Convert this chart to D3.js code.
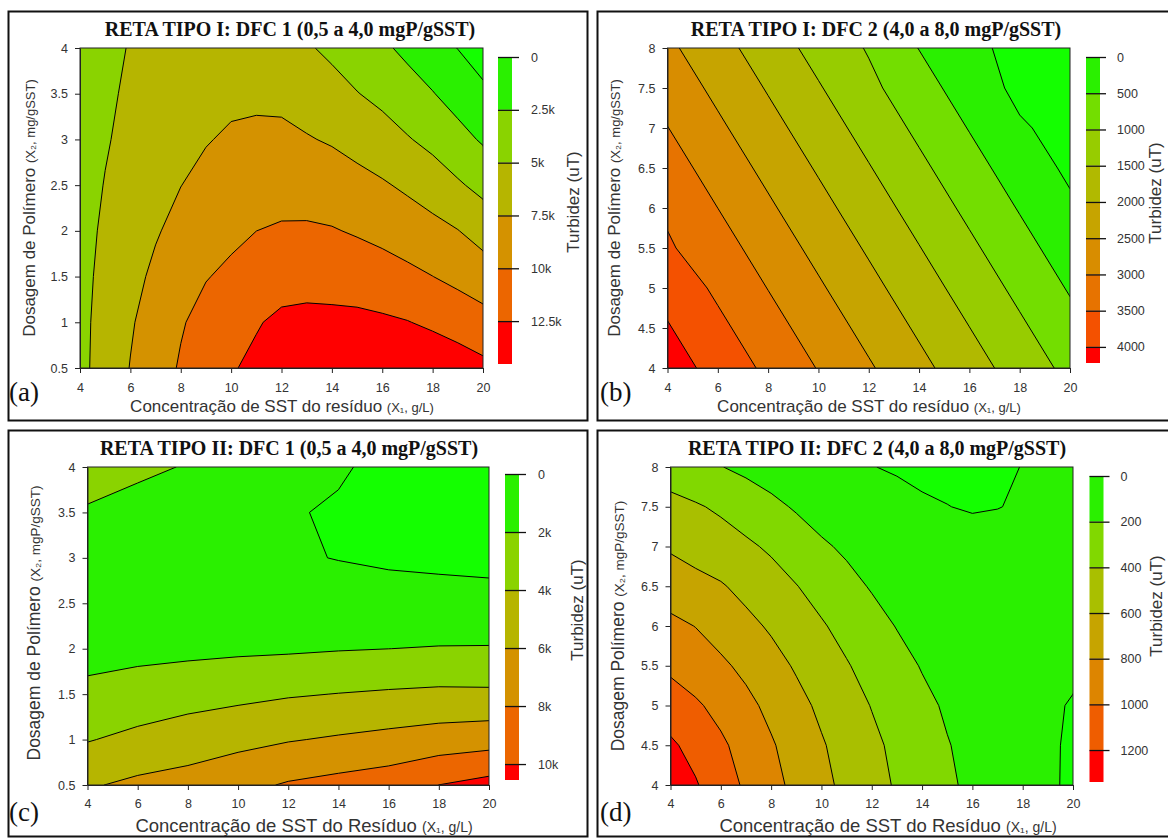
<!DOCTYPE html>
<html>
<head>
<meta charset="utf-8">
<script src="https://cdn.jsdelivr.net/npm/d3@7"></script>
<style>
  body { margin: 0; background: #fff; }
  text { font-family: "Liberation Sans", Arial, sans-serif; }
</style>
</head>
<body>
<svg id="chart" width="1168" height="838"></svg>
<script>
// X1 = SST concentration (g/L), X2 = polymer dose
var x1Grid = [4, 6, 8, 10, 12, 14, 16, 18, 20];
var x1GridFine = [4, 5, 6, 7, 8, 9, 10, 11, 12, 13, 14, 15, 16, 17, 18, 19, 20];
var x2GridLow = [0.5, 1, 1.5, 2, 2.5, 3, 3.5, 4];
var x2GridHigh = [4, 4.5, 5, 5.5, 6, 6.5, 7, 7.5, 8];

// turbidity, one row per X2 value (lowest X2 first)
var turbA = [
  [4370, 6003, 7582, 8948, 10228, 11320, 12300, 13020, 13654, 14100, 14447, 14590, 14640, 14490, 14233, 13730, 13100],
  [4380, 5833, 7270, 8550, 9800, 10766, 11700, 12315, 13000, 13150, 13056, 13050, 12857, 12582, 12083, 11500, 10850],
  [4330, 5593, 6780, 7963, 9150, 9896, 10430, 11005, 11500, 11620, 11618, 11385, 11052, 10566, 10020, 9395, 8730],
  [4250, 5342, 6320, 7295, 8200, 8905, 9530, 9995, 10250, 10300, 10147, 9779, 9336, 8800, 8239, 7567, 6545],
  [4150, 5080, 5878, 6700, 7470, 8115, 8660, 8935, 9090, 8960, 8708, 8260, 7753, 7098, 6293, 5298, 4310],
  [4000, 4833, 5550, 6330, 7030, 7373, 7795, 7935, 7955, 7652, 7278, 6680, 6020, 5170, 4341, 3283, 2226],
  [3850, 4617, 5350, 6015, 6600, 6880, 7040, 7110, 7020, 6495, 5890, 5081, 4378, 3491, 2604, 1559, 514],
  [3900, 4515, 5100, 5680, 6200, 6430, 6500, 6280, 5900, 5257, 4500, 3700, 2900, 1968, 1000, -46, -1200]
];
var turbB = [
  [4243, 3821, 3399, 2977, 2555, 2133, 1711, 1289, 867],
  [4038, 3616, 3194, 2772, 2350, 1928, 1506, 1084, 662],
  [3832, 3410, 2988, 2566, 2144, 1722, 1300, 878, 456],
  [3560, 3205, 2783, 2361, 1939, 1517, 1095, 673, 251],
  [3421, 2999, 2577, 2155, 1733, 1311, 889, 467, 80],
  [3216, 2794, 2372, 1950, 1528, 1106, 684, 262, -87],
  [3010, 2588, 2166, 1744, 1322, 900, 478, 56, -168],
  [2805, 2383, 1961, 1539, 1117, 695, 273, -117, -260],
  [2599, 2177, 1755, 1333, 960, 489, 150, -180, -360]
];
var turbC = [
  [5800, 6400, 6750, 7450, 8186, 8619, 9050, 10010, 10673],
  [3892, 4500, 5000, 5434, 5878, 6217, 6550, 6919, 7186],
  [2388, 2780, 3222, 3529, 3833, 4043, 4227, 4370, 4333],
  [1425, 1500, 1550, 1671, 1750, 1895, 1995, 2090, 2114],
  [1003, 847, 610, 591, 750, 800, 700, 620, 529],
  [1122, 784, 361, 186, 180, -50, -250, -350, -422],
  [1782, 1295, 785, 456, 110, -150, -500, -650, -739],
  [2983, 2382, 1883, 1401, 450, 150, -350, -400, -422]
];
var turbD = [
  [1340, 1216, 1092, 971, 859, 752, 649, 554, 466, 381, 306, 231, 160, 105, 55, 18, -20],
  [1230, 1138, 1033, 926, 819, 718, 617, 528, 440, 359, 284, 208, 155, 100, 50, 15, -15],
  [1100, 1027, 941, 848, 753, 656, 564, 478, 393, 317, 241, 179, 134, 90, 45, 17, -8],
  [960, 896, 833, 756, 668, 580, 496, 413, 335, 260, 190, 150, 110, 82, 55, 37, 20],
  [845, 796, 723, 650, 576, 497, 418, 341, 265, 193, 151, 118, 85, 65, 45, 35, 25],
  [706, 659, 617, 546, 476, 406, 330, 254, 186, 145, 110, 83, 60, 44, 30, 27, 25],
  [577, 528, 479, 431, 373, 299, 226, 170, 125, 95, 70, 58, 50, 32, 15, 20, 25],
  [449, 418, 372, 308, 244, 181, 121, 93, 65, 40, 15, 2, -10, -2, 8, 16, 25],
  [319, 262, 205, 159, 114, 80, 45, 24, 3, -12, -25, -28, -30, -14, 2, 11, 20]
];

// contour levels, colour key top value and key labels
var levelsA = [0, 2500, 5000, 7500, 10000, 12500];
var levelsB = [0, 500, 1000, 1500, 2000, 2500, 3000, 3500, 4000];
var levelsC = [0, 2000, 4000, 6000, 8000, 10000];
var levelsD = [0, 200, 400, 600, 800, 1000, 1200];
var keyMaxA = 14530, keyMaxB = 4222, keyMaxC = 10550, keyMaxD = 1340;
var keyLabelsA = ["0", "2.5k", "5k", "7.5k", "10k", "12.5k"];
var keyLabelsB = ["0", "500", "1000", "1500", "2000", "2500", "3000", "3500", "4000"];
var keyLabelsC = ["0", "2k", "4k", "6k", "8k", "10k"];
var keyLabelsD = ["0", "200", "400", "600", "800", "1000", "1200"];

var x1Ticks = [4, 6, 8, 10, 12, 14, 16, 18, 20];
var x2TicksLow = [0.5, 1, 1.5, 2, 2.5, 3, 3.5, 4];
var x2TicksHigh = [4, 4.5, 5, 5.5, 6, 6.5, 7, 7.5, 8];

var titles = [
  "RETA TIPO I: DFC 1 (0,5 a 4,0 mgP/gSST)",
  "RETA TIPO I: DFC 2 (4,0 a 8,0 mgP/gSST)",
  "RETA TIPO II: DFC 1 (0,5 a 4,0 mgP/gSST)",
  "RETA TIPO II: DFC 2 (4,0 a 8,0 mgP/gSST)"
];
var xTitles = ["Concentração de SST do resíduo ", "Concentração de SST do resíduo ",
  "Concentração de SST do Resíduo ", "Concentração de SST do Resíduo "];
var yTitles = [
  ["Dosagem de Polímero ", "(X\u2082, mg/gSST)"],
  ["Dosagem de Polímero ", "(X\u2082, mg/gSST)"],
  ["Dosagem de Polímero ", "(X\u2082, mgP/gSST)"],
  ["Dosagem Polímero ", "(X\u2082, mgP/gSST)"]
];
var letters = ["(a)", "(b)", "(c)", "(d)"];

var svg = d3.select("#chart");
var palette = d3.interpolateLab("#2af000", "#ff0000");
var belowZero = "#14ff00";

// layout of the four panels
var panels = [
  { id: "a", z: turbA, xGrid: x1GridFine, yGrid: x2GridLow, yTicks: x2TicksLow, levels: levelsA, keyMax: keyMaxA, keyLabels: keyLabelsA,
    frame: [8.5, 11.5, 579, 409], l: 80, r: 483, t: 48, b: 368,
    titleX: 290, titleY: 36, letterX: 9, letterY: 401,
    xtX: 282, xtY: 412, xtSize: 17, xtSub: 13, ytX: 29, ytY: 208, ytSize: 17, ytSub: 13,
    keyX: 498, keyT: 57, keyB: 364, keyTick: 21, keyPad: 12, turbX: 573, turbY: 202, xPad: 10 },
  { id: "b", z: turbB, xGrid: x1Grid, yGrid: x2GridHigh, yTicks: x2TicksHigh, levels: levelsB, keyMax: keyMaxB, keyLabels: keyLabelsB,
    frame: [597.5, 11.5, 590, 409], l: 667.5, r: 1070, t: 48, b: 368,
    titleX: 876, titleY: 36, letterX: 600, letterY: 401,
    xtX: 869, xtY: 412, xtSize: 17, xtSub: 13, ytX: 614, ytY: 208, ytSize: 17, ytSub: 13,
    keyX: 1086, keyT: 57, keyB: 363, keyTick: 20, keyPad: 11, turbX: 1155, turbY: 193, xPad: 10 },
  { id: "c", z: turbC, xGrid: x1Grid, yGrid: x2GridLow, yTicks: x2TicksLow, levels: levelsC, keyMax: keyMaxC, keyLabels: keyLabelsC,
    frame: [8.5, 430.5, 579, 406], l: 87.5, r: 489, t: 467, b: 785,
    titleX: 289, titleY: 455, letterX: 9, letterY: 821,
    xtX: 304, xtY: 832, xtSize: 18.5, xtSub: 14, ytX: 34, ytY: 623, ytSize: 17.5, ytSub: 13.5,
    keyX: 505, keyT: 474, keyB: 780, keyTick: 21, keyPad: 12, turbX: 577, turbY: 610, xPad: 9 },
  { id: "d", z: turbD, xGrid: x1GridFine, yGrid: x2GridHigh, yTicks: x2TicksHigh, levels: levelsD, keyMax: keyMaxD, keyLabels: keyLabelsD,
    frame: [597.5, 430.5, 590, 406], l: 670.5, r: 1073, t: 467, b: 785,
    titleX: 877, titleY: 455, letterX: 600, letterY: 821,
    xtX: 888, xtY: 832, xtSize: 18.5, xtSub: 14, ytX: 618, ytY: 626, ytSize: 17.5, ytSub: 13.5,
    keyX: 1089.5, keyT: 476, keyB: 782, keyTick: 20, keyPad: 11, turbX: 1156, turbY: 606, xPad: 9 }
];

panels.forEach(function(p, pi) {
  var g = svg.append("g");
  var n = p.levels.length;
  var color = function(i) { return palette(i / (n - 1)); };

  // outer frame
  g.append("rect").attr("x", p.frame[0]).attr("y", p.frame[1])
    .attr("width", p.frame[2]).attr("height", p.frame[3])
    .attr("fill", "none").attr("stroke", "#111").attr("stroke-width", 2);

  var x = d3.scaleLinear().domain([p.xGrid[0], p.xGrid[p.xGrid.length - 1]]).range([p.l, p.r]);
  var y = d3.scaleLinear().domain([p.yGrid[0], p.yGrid[p.yGrid.length - 1]]).range([p.b, p.t]);

  // filled contours from the grid
  var nx = p.xGrid.length, ny = p.yGrid.length;
  var sx = p.xGrid[1] - p.xGrid[0], sy = p.yGrid[1] - p.yGrid[0];
  var contours = d3.contours().size([nx, ny]).thresholds(p.levels)(d3.merge(p.z));
  var toScreen = d3.geoTransform({
    point: function(gx, gy) {
      this.stream.point(x(p.xGrid[0] + (gx - 0.5) * sx), y(p.yGrid[0] + (gy - 0.5) * sy));
    }
  });
  var path = d3.geoPath(toScreen);

  svg.append("clipPath").attr("id", "clip-" + p.id).append("rect")
    .attr("x", p.l).attr("y", p.t).attr("width", p.r - p.l).attr("height", p.b - p.t);
  var plot = g.append("g").attr("clip-path", "url(#clip-" + p.id + ")");
  plot.append("rect").attr("x", p.l).attr("y", p.t).attr("width", p.r - p.l).attr("height", p.b - p.t)
    .attr("fill", belowZero);
  plot.selectAll("path").data(contours).join("path")
    .attr("d", path)
    .attr("fill", function(d, i) { return color(i); })
    .attr("stroke", "#000").attr("stroke-width", 1);

  g.append("rect").attr("x", p.l).attr("y", p.t).attr("width", p.r - p.l).attr("height", p.b - p.t)
    .attr("fill", "none").attr("stroke", "#222").attr("stroke-width", 1);

  // axes
  var xAxis = d3.axisBottom(x).tickValues(x1Ticks).tickSize(5).tickSizeOuter(0).tickPadding(p.xPad)
    .tickFormat(d3.format("d"));
  var yAxis = d3.axisLeft(y).tickValues(p.yTicks).tickSize(5).tickSizeOuter(0).tickPadding(7)
    .tickFormat(function(d) { return String(d); });
  var gx = g.append("g").attr("transform", "translate(0," + p.b + ")").call(xAxis);
  var gy = g.append("g").attr("transform", "translate(" + p.l + ",0)").call(yAxis);
  [gx, gy].forEach(function(a) {
    a.select(".domain").attr("stroke", "#222");
    a.selectAll(".tick line").attr("stroke", "#222");
    a.selectAll(".tick text").attr("fill", "#333").style("font-size", "12.5px")
      .style("font-family", "'Liberation Sans', Arial, sans-serif");
  });

  // title and panel letter
  g.append("text").attr("x", p.titleX).attr("y", p.titleY).attr("text-anchor", "middle")
    .style("font-family", "'Liberation Serif', 'Times New Roman', serif").style("font-weight", "bold")
    .style("font-size", "20px").attr("fill", "#111").text(titles[pi]);
  g.append("text").attr("x", p.letterX).attr("y", p.letterY)
    .style("font-family", "'Liberation Serif', 'Times New Roman', serif")
    .style("font-size", "27px").attr("fill", "#111").text(letters[pi]);

  // axis titles
  var xt = g.append("text").attr("x", p.xtX).attr("y", p.xtY).attr("text-anchor", "middle").attr("fill", "#333");
  xt.append("tspan").style("font-size", p.xtSize + "px").text(xTitles[pi]);
  xt.append("tspan").style("font-size", p.xtSub + "px").text("(X\u2081, g/L)");

  var yt = g.append("text").attr("transform", "translate(" + p.ytX + "," + p.ytY + ") rotate(-90)")
    .attr("text-anchor", "middle").attr("dy", "0.35em").attr("fill", "#333");
  yt.append("tspan").style("font-size", p.ytSize + "px").text(yTitles[pi][0]);
  yt.append("tspan").style("font-size", p.ytSub + "px").text(yTitles[pi][1]);

  // colour key
  var k = d3.scaleLinear().domain([0, p.keyMax]).range([p.keyT, p.keyB]);
  var bands = p.levels.map(function(lv, i) {
    return { from: lv, to: i < n - 1 ? p.levels[i + 1] : p.keyMax, i: i };
  });
  g.selectAll(".kb").data(bands).join("rect").attr("class", "kb")
    .attr("x", p.keyX).attr("width", 14)
    .attr("y", function(d) { return k(d.from); })
    .attr("height", function(d) { return k(d.to) - k(d.from); })
    .attr("fill", function(d) { return color(d.i); });
  var keyAxis = d3.axisRight(k).tickValues(p.levels).tickSize(p.keyTick).tickPadding(p.keyPad)
    .tickFormat(function(d, i) { return p.keyLabels[i]; });
  var gk = g.append("g").attr("transform", "translate(" + p.keyX + ",0)").call(keyAxis);
  gk.select(".domain").remove();
  gk.selectAll(".tick line").attr("stroke", "#111").attr("stroke-width", 1.3);
  gk.selectAll(".tick text").attr("fill", "#333").style("font-size", "12.5px")
    .style("font-family", "'Liberation Sans', Arial, sans-serif");

  g.append("text").attr("transform", "translate(" + p.turbX + "," + p.turbY + ") rotate(-90)")
    .attr("text-anchor", "middle").attr("dy", "0.35em").attr("fill", "#333")
    .style("font-size", "17px").text("Turbidez (uT)");
});
</script>
</body>
</html>
